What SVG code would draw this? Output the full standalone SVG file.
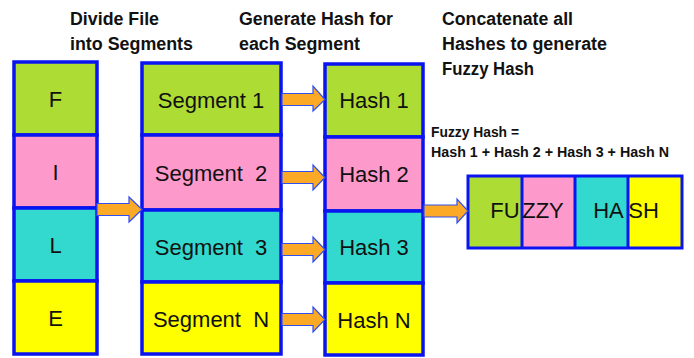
<svg xmlns="http://www.w3.org/2000/svg" width="694" height="358" viewBox="0 0 694 358">
<style>
.box{stroke:#0A14F0;stroke-width:3.5}
.g{fill:#ADDC34}.p{fill:#FD99CB}.t{fill:#33D9CE}.y{fill:#FFFF00}
.lbl{font-family:"Liberation Sans",Arial,sans-serif;font-size:22px;fill:#111;text-anchor:middle}
.title{font-family:"Liberation Sans",Arial,sans-serif;font-size:17.5px;font-weight:bold;fill:#111}
.sm{font-family:"Liberation Sans",Arial,sans-serif;font-size:14px;font-weight:bold;fill:#111}
.arr{fill:#FCA926;stroke:#3050F0;stroke-width:1.2}
</style>
<rect width="694" height="358" fill="#fff"/>
<g id="titles">
<text class="title" x="70" y="25" textLength="89" lengthAdjust="spacingAndGlyphs">Divide File</text>
<text class="title" x="70" y="50" textLength="123" lengthAdjust="spacingAndGlyphs">into Segments</text>
<text class="title" x="239" y="25" textLength="154" lengthAdjust="spacingAndGlyphs">Generate Hash for</text>
<text class="title" x="239" y="50" textLength="121" lengthAdjust="spacingAndGlyphs">each Segment</text>
<text class="title" x="442" y="25" textLength="131" lengthAdjust="spacingAndGlyphs">Concatenate all</text>
<text class="title" x="442" y="50" textLength="165" lengthAdjust="spacingAndGlyphs">Hashes to generate</text>
<text class="title" x="442" y="75" textLength="92" lengthAdjust="spacingAndGlyphs">Fuzzy Hash</text>
<text class="sm" x="431" y="137" textLength="88" lengthAdjust="spacingAndGlyphs">Fuzzy Hash =</text>
<text class="sm" x="431" y="157" textLength="238" lengthAdjust="spacingAndGlyphs">Hash 1 + Hash 2 + Hash 3 + Hash N</text>
</g>
<g id="file">
<rect class="box g" x="14" y="62" width="83" height="73"/>
<rect class="box p" x="14" y="135" width="83" height="73"/>
<rect class="box t" x="14" y="208" width="83" height="73"/>
<rect class="box y" x="14" y="281" width="83" height="73"/>
<text class="lbl" x="55.5" y="107">F</text>
<text class="lbl" x="55.5" y="180">I</text>
<text class="lbl" x="55.5" y="253">L</text>
<text class="lbl" x="55.5" y="326">E</text>
</g>
<g id="segments">
<rect class="box g" x="142" y="63" width="139" height="72"/>
<rect class="box p" x="142" y="135" width="139" height="75"/>
<rect class="box t" x="142" y="210" width="139" height="72"/>
<rect class="box y" x="142" y="282" width="139" height="72"/>
<text class="lbl" x="211" y="108">Segment 1</text>
<text class="lbl" x="211" y="181" xml:space="preserve">Segment  2</text>
<text class="lbl" x="211" y="255" xml:space="preserve">Segment  3</text>
<text class="lbl" x="211" y="327" xml:space="preserve">Segment  N</text>
</g>
<g id="hashes">
<rect class="box g" x="325" y="64" width="98" height="73"/>
<rect class="box p" x="325" y="137" width="98" height="74"/>
<rect class="box t" x="325" y="211" width="98" height="72"/>
<rect class="box y" x="325" y="283" width="98" height="72"/>
<text class="lbl" x="374" y="108">Hash 1</text>
<text class="lbl" x="374" y="182">Hash 2</text>
<text class="lbl" x="374" y="255">Hash 3</text>
<text class="lbl" x="374" y="328">Hash N</text>
</g>
<g id="fuzzy">
<rect class="g" x="468" y="176" width="54" height="72"/>
<rect class="p" x="522" y="176" width="53" height="72"/>
<rect class="t" x="575" y="176" width="53" height="72"/>
<rect class="y" x="628" y="176" width="54" height="72"/>
<g stroke="#0A14F0" stroke-width="3" fill="none">
<rect x="468" y="176" width="214" height="72"/>
<line x1="522" y1="176" x2="522" y2="248"/>
<line x1="575" y1="176" x2="575" y2="248"/>
<line x1="628" y1="176" x2="628" y2="248"/>
</g>
<text class="lbl" x="505" y="218">FU</text>
<text class="lbl" x="543" y="218">ZZY</text>
<text class="lbl" x="608.5" y="218">HA</text>
<text class="lbl" x="643.5" y="218">SH</text>
</g>
<g id="connectors">
<path class="arr" d="M97,203.5 H129 V197 L142,209.5 L129,222 V215.5 H97 Z"/>
<path class="arr" d="M282,93.5 H313 V86 L325,99.5 L313,111 V105.5 H282 Z"/>
<path class="arr" d="M282,171.5 H313 V165 L325,177.5 L313,190 V183.5 H282 Z"/>
<path class="arr" d="M282,243.5 H313 V237 L325,249.5 L313,262 V255.5 H282 Z"/>
<path class="arr" d="M282,313.5 H313 V307 L325,319.5 L313,332 V325.5 H282 Z"/>
<path class="arr" d="M424,205 H457 V199 L468,211 L457,223 V217 H424 Z"/>
</g>
</svg>
